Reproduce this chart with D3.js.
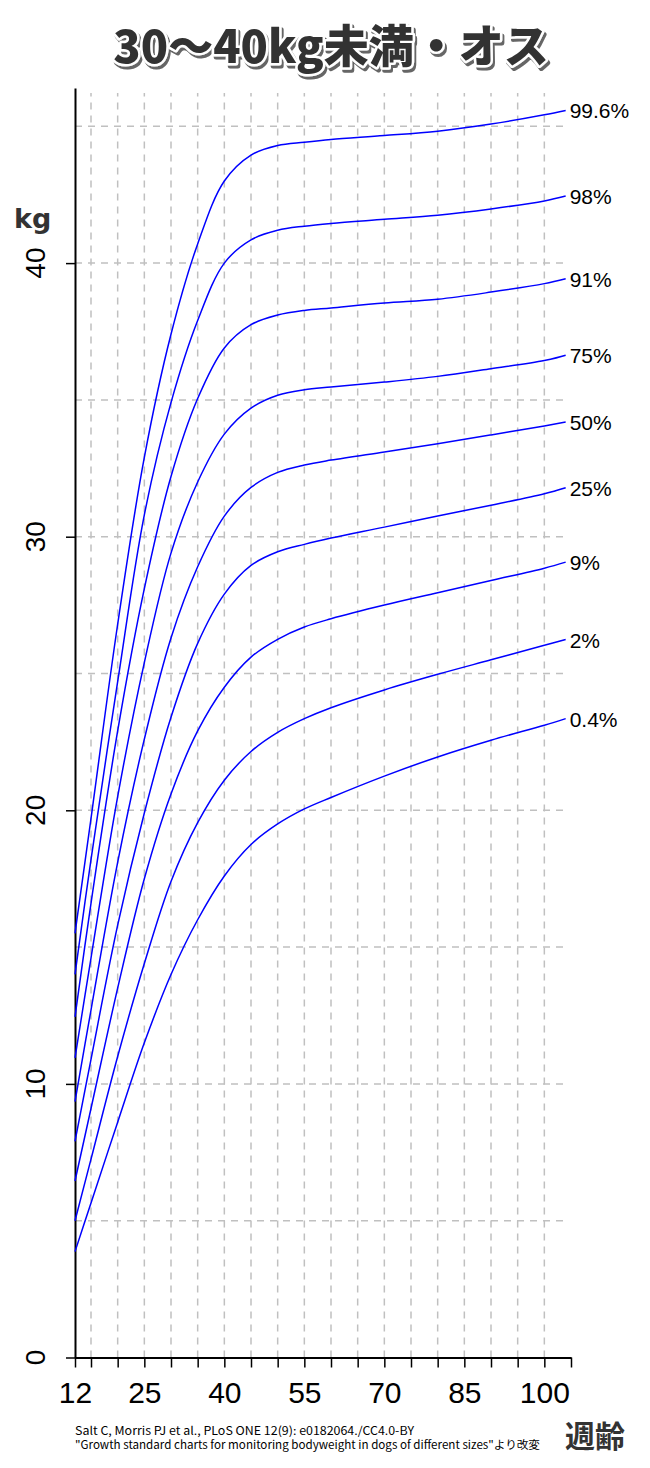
<!DOCTYPE html>
<html>
<head>
<meta charset="utf-8">
<script src="https://cdn.jsdelivr.net/npm/d3@7"></script>
<style>
  body { margin: 0; background: #fff; }
  svg { display: block; }
</style>
</head>
<body>
<svg></svg>
<script>
// 週齢ごとの体重 (kg) — 図から読み取り
const weeks = [12, 15, 20, 25, 30, 35, 40, 45, 50, 55, 60, 70, 80, 90, 100, 104];
const p996 = [15.5, 19.7, 26.8, 32.9, 37.4, 40.7, 43.0, 43.95, 44.3, 44.42, 44.52, 44.66, 44.82, 45.08, 45.42, 45.58];
const p98  = [14.0, 18.2, 24.7, 30.8, 34.9, 37.9, 40.0, 40.85, 41.2, 41.35, 41.45, 41.6, 41.75, 41.98, 42.27, 42.45];
const p91  = [12.45, 16.6, 22.9, 28.1, 32.2, 35.05, 36.9, 37.75, 38.1, 38.27, 38.36, 38.54, 38.68, 38.94, 39.25, 39.43];
const p75  = [10.95, 14.6, 20.5, 25.4, 29.4, 32.0, 33.75, 34.7, 35.17, 35.37, 35.47, 35.65, 35.86, 36.14, 36.44, 36.63];
const p50  = [9.35, 12.7, 18.1, 22.6, 26.3, 28.9, 30.75, 31.8, 32.35, 32.62, 32.8, 33.1, 33.4, 33.72, 34.05, 34.19];
const p25  = [7.9, 10.9, 15.8, 19.9, 23.4, 26.1, 27.9, 28.95, 29.45, 29.72, 29.95, 30.35, 30.76, 31.15, 31.57, 31.79];
const p9   = [6.45, 9.1, 13.5, 17.5, 20.6, 22.9, 24.5, 25.6, 26.25, 26.7, 27.0, 27.5, 27.95, 28.4, 28.85, 29.07];
const p2   = [5.0, 7.25, 11.0, 14.4, 17.4, 19.55, 21.1, 22.15, 22.85, 23.35, 23.75, 24.4, 24.97, 25.5, 26.03, 26.24];
const p04  = [3.87, 5.65, 8.6, 11.5, 14.0, 16.0, 17.6, 18.75, 19.5, 20.05, 20.47, 21.25, 21.95, 22.56, 23.11, 23.35];

const seriesNames = ['99.6%', '98%', '91%', '75%', '50%', '25%', '9%', '2%', '0.4%'];
const seriesValues = [p996, p98, p91, p75, p50, p25, p9, p2, p04];

const xTicks = [12, 15, 20, 25, 30, 35, 40, 45, 50, 55, 60, 65, 70, 75, 80, 85, 90, 95, 100, 105];
const xLabels = [12, 25, 40, 55, 70, 85, 100];
const xGrid = [15, 20, 25, 30, 35, 40, 45, 50, 55, 60, 65, 70, 75, 80, 85, 90, 95, 100];
const yTicks = [0, 10, 20, 30, 40];
const yGrid = [5, 10, 15, 20, 25, 30, 35, 40, 45];

const width = 650;
const height = 1468;
const svg = d3.select('svg').attr('width', width).attr('height', height);

const x = d3.scaleLinear().domain([12, 105]).range([75, 571]);
const y = d3.scaleLinear().domain([0, 46.4]).range([1357.5, 88]);

// タイトルの影
const defs = svg.append('defs');
defs.append('filter')
    .attr('id', 'shadow')
    .attr('x', '-5%').attr('y', '-20%')
    .attr('width', '115%').attr('height', '150%')
    .append('feDropShadow')
    .attr('dx', 2).attr('dy', 3)
    .attr('stdDeviation', 0.6)
    .attr('flood-color', '#555')
    .attr('flood-opacity', 0.9);

// グリッド
const grid = svg.append('g')
    .attr('stroke', '#c0c0c0')
    .attr('stroke-width', 1.5)
    .attr('stroke-dasharray', '7,6');

grid.selectAll('.vg').data(xGrid).enter()
    .append('line')
    .attr('x1', d => x(d)).attr('x2', d => x(d))
    .attr('y1', y(0)).attr('y2', 93);

grid.selectAll('.hg').data(yGrid).enter()
    .append('line')
    .attr('x1', x(12)).attr('x2', 569)
    .attr('y1', d => y(d)).attr('y2', d => y(d));

// 軸
const xAxis = d3.axisBottom(x)
    .tickValues(xTicks)
    .tickSize(10)
    .tickSizeOuter(0)
    .tickPadding(14)
    .tickFormat(d => xLabels.includes(d) ? d : '');

const xAxisLayer = svg.append('g')
    .attr('transform', `translate(0, ${y(0)})`)
    .call(xAxis);

xAxisLayer.select('.domain').attr('stroke', '#000').attr('stroke-width', 2);
xAxisLayer.selectAll('.tick line').attr('stroke', '#000').attr('stroke-width', 1.5);
xAxisLayer.selectAll('.tick text')
    .attr('fill', '#000')
    .style('font-family', '"Liberation Sans", Arial, sans-serif')
    .style('font-size', '30px');

const yAxis = d3.axisLeft(y)
    .tickValues(yTicks)
    .tickSize(9)
    .tickSizeOuter(0)
    .tickFormat('');

const yAxisLayer = svg.append('g')
    .attr('transform', `translate(${x(12)}, 0)`)
    .call(yAxis);

yAxisLayer.select('.domain').attr('stroke', '#000').attr('stroke-width', 2);
yAxisLayer.selectAll('.tick line').attr('stroke', '#000').attr('stroke-width', 1.5);

// 縦の目盛り数字 (回転)
svg.append('g').selectAll('text').data(yTicks).enter()
    .append('text')
    .attr('transform', d => `translate(45, ${y(d)}) rotate(-90)`)
    .attr('text-anchor', 'middle')
    .style('font-family', '"Liberation Sans", Arial, sans-serif')
    .style('font-size', '28px')
    .attr('fill', '#000')
    .text(d => d);

// 成長曲線
const line = d3.line()
    .x((d, i) => x(weeks[i]))
    .y(d => y(d))
    .curve(d3.curveCatmullRom.alpha(0.5));

const curves = svg.append('g');
curves.selectAll('path').data(seriesValues).enter()
    .append('path')
    .attr('d', d => line(d))
    .attr('fill', 'none')
    .attr('stroke', '#0000ff')
    .attr('stroke-width', 1.5);

curves.selectAll('text').data(seriesValues).enter()
    .append('text')
    .attr('x', x(weeks[weeks.length - 1]) + 4)
    .attr('y', d => y(d[d.length - 1]) + 8)
    .style('font-family', '"Liberation Sans", Arial, sans-serif')
    .style('font-size', '21px')
    .attr('fill', '#000')
    .text((d, i) => seriesNames[i]);

// タイトル
svg.append('text')
    .attr('x', 331).attr('y', 63)
    .attr('text-anchor', 'middle')
    .attr('filter', 'url(#shadow)')
    .style('font-family', '"Noto Sans CJK JP", sans-serif')
    .style('font-weight', 900)
    .style('font-size', '45px')
    .attr('fill', '#333')
    .attr('stroke', '#fff')
    .attr('stroke-width', 5)
    .attr('stroke-linejoin', 'round')
    .attr('paint-order', 'stroke')
    .text('30〜40kg未満・オス');

// 軸ラベル
svg.append('text')
    .attr('x', 14).attr('y', 228)
    .style('font-family', '"DejaVu Sans", sans-serif')
    .style('font-weight', 'bold')
    .style('font-size', '27px')
    .attr('fill', '#333')
    .text('kg');

svg.append('text')
    .attr('x', 625).attr('y', 1447)
    .attr('text-anchor', 'end')
    .style('font-family', '"Noto Sans CJK JP", sans-serif')
    .style('font-weight', 'bold')
    .style('font-size', '30px')
    .attr('fill', '#333')
    .text('週齢');

// 出典
const sourceLines = [
    'Salt C, Morris PJ et al., PLoS ONE 12(9): e0182064./CC4.0-BY',
    '"Growth standard charts for monitoring bodyweight in dogs of different sizes"より改変'
];
const sourceWidths = [339, 465];
svg.append('g').selectAll('text').data(sourceLines).enter()
    .append('text')
    .attr('x', 75)
    .attr('y', (d, i) => 1435 + i * 14)
    .attr('textLength', (d, i) => sourceWidths[i])
    .attr('lengthAdjust', 'spacingAndGlyphs')
    .style('font-family', '"Noto Sans CJK JP", sans-serif')
    .style('font-size', '11.5px')
    .attr('fill', '#000')
    .text(d => d);
</script>
</body>
</html>
